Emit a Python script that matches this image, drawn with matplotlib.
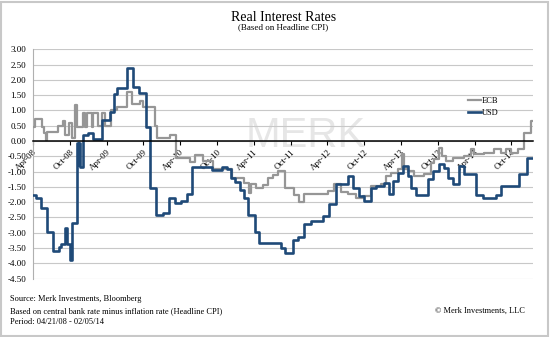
import pandas as pd
import matplotlib
matplotlib.use('Agg')
import matplotlib.pyplot as plt
from matplotlib.patches import Rectangle

plt.rcParams['font.family'] = ['Liberation Serif', 'DejaVu Serif']

# step data: date the level starts, real rate (%)
usd_dates = ['2008-04-21', '2008-05-08', '2008-06-02', '2008-06-30', '2008-07-27', '2008-08-29',
             '2008-09-09', '2008-09-26', '2008-10-08', '2008-10-24', '2008-11-03', '2008-11-23',
             '2008-12-01', '2008-12-05', '2008-12-10', '2008-12-26', '2009-01-20', '2009-02-14',
             '2009-03-28', '2009-05-08', '2009-05-28', '2009-06-12', '2009-07-31', '2009-08-31',
             '2009-09-29', '2009-11-03', '2009-11-23', '2009-12-23', '2010-01-27', '2010-02-26',
             '2010-03-28', '2010-04-27', '2010-05-26', '2010-06-20', '2010-09-28', '2010-11-17',
             '2010-12-12', '2011-01-01', '2011-01-20', '2011-02-14', '2011-03-06', '2011-03-26',
             '2011-04-30', '2011-05-20', '2011-09-02', '2011-09-26', '2011-10-31', '2011-11-25',
             '2011-12-25', '2012-01-29', '2012-03-29', '2012-04-28', '2012-06-01', '2012-07-31',
             '2012-08-25', '2012-09-24', '2012-10-19', '2012-11-23', '2012-12-17', '2013-01-26',
             '2013-02-20', '2013-03-12', '2013-04-06', '2013-05-01', '2013-05-26', '2013-06-10',
             '2013-07-05', '2013-09-02', '2013-09-27', '2013-10-27', '2013-11-21', '2013-12-11',
             '2014-01-05', '2014-02-04', '2014-03-01', '2014-04-29', '2014-06-03', '2014-08-07',
             '2014-09-01', '2014-11-30', '2015-01-04']
usd_values = [-1.75, -1.87, -2.20, -2.98, -3.59, -3.48,
              -3.37, -2.85, -3.37, -3.88, -2.68, -0.07,
              -0.80, -0.07, -0.84, 0.20, 0.25, 0.07,
              0.68, 0.95, 1.55, 1.72, 2.38, 1.77,
              1.57, 0.47, -1.52, -2.43, -2.36, -1.87,
              -2.03, -1.97, -1.73, -0.85, -0.95, -0.84,
              -0.90, -1.22, -1.33, -1.60, -1.87, -2.41,
              -2.96, -3.34, -3.50, -3.65, -3.25, -3.13,
              -2.72, -2.62, -2.45, -2.07, -1.41, -1.14,
              -1.52, -1.80, -1.96, -1.52, -1.47, -1.36,
              -1.74, -1.30, -1.03, -0.82, -1.14, -1.52,
              -1.76, -1.25, -0.98, -0.76, -0.87, -1.20,
              -1.39, -0.82, -1.07, -1.76, -1.87, -1.76,
              -1.47, -1.07, -0.54]

ecb_dates = ['2008-04-21', '2008-04-29', '2008-06-03', '2008-06-13', '2008-06-23', '2008-06-28',
             '2008-08-22', '2008-09-16', '2008-09-26', '2008-10-16', '2008-10-31', '2008-11-15',
             '2008-11-25', '2008-12-25', '2009-01-03', '2009-01-13', '2009-02-07', '2009-02-12',
             '2009-03-09', '2009-03-29', '2009-04-13', '2009-05-13', '2009-06-12', '2009-07-31',
             '2009-08-25', '2009-10-05', '2009-10-19', '2009-12-18', '2009-12-28', '2010-03-03',
             '2010-04-02', '2010-06-10', '2010-07-05', '2010-08-12', '2010-10-03',
             '2011-01-06', '2011-03-06', '2011-03-31', '2011-04-10', '2011-05-05', '2011-06-04',
             '2011-06-29', '2011-07-24', '2011-08-18', '2011-09-26', '2011-11-05', '2011-11-30',
             '2011-12-25', '2012-04-22', '2012-05-22', '2012-06-26', '2012-07-31', '2012-09-09',
             '2012-10-14', '2012-11-23', '2013-01-11', '2013-02-05', '2013-03-02', '2013-04-06',
             '2013-04-26', '2013-05-06', '2013-05-26', '2013-06-25', '2013-08-13', '2013-09-17',
             '2013-10-02', '2013-10-27', '2013-11-11', '2013-12-01', '2014-01-05', '2014-03-01',
             '2014-04-05', '2014-04-20', '2014-06-09', '2014-07-28', '2014-09-01', '2014-09-26',
             '2014-10-21', '2014-11-25', '2014-12-25', '2015-01-24']
ecb_values = [0.45, 0.72, 0.47, 0.25, 0.03, 0.28,
              0.48, 0.66, 0.20, 0.58, 0.10, 1.17,
              0.45, 0.90, 0.45, 0.90, 0.45, 0.90,
              0.50, 0.90, 0.50, 1.00, 1.10, 1.60,
              1.22, 1.30, 1.10, 0.50, 0.10, 0.20,
              -0.55, -0.68, -0.46, -0.65, -0.90,
              -1.20, -1.38, -1.70, -1.42, -1.52, -1.43,
              -1.22, -1.11, -0.97, -1.52, -1.76, -2.00,
              -1.74, -1.63, -1.41, -1.66, -1.72, -1.85,
              -1.80, -1.47, -1.41, -1.14, -1.03, -0.92,
              -0.43, -0.90, -0.98, -1.14, -1.09, -0.71,
              -0.60, -0.22, -0.49, -0.65, -0.54, -0.49,
              -0.27, -0.43, -0.38, -0.27, -0.38, -0.27,
              -0.38, -0.27, 0.27, 0.65]

start = pd.Timestamp('2008-04-21')
end = pd.Timestamp('2015-02-05')

usd = pd.Series(usd_values + [usd_values[-1]], index=pd.to_datetime(usd_dates + [str(end.date())]))
ecb = pd.Series(ecb_values + [ecb_values[-1]], index=pd.to_datetime(ecb_dates + [str(end.date())]))

fig = plt.figure(figsize=(5.5, 3.37), dpi=100)
ax = fig.add_axes([0.06, 0.173, 0.909, 0.681])

# watermark
ax.text(0.545, 0.62, 'MERK', transform=ax.transAxes, fontsize=30, color='#e6e6e6',
        family='Liberation Sans', ha='center', va='center', zorder=0)

ax.set_ylim(-4.5, 3.0)
ax.set_xlim(start, end)
yt = [-4.5 + 0.5 * i for i in range(16)]
ax.set_yticks(yt)
ax.set_yticklabels(['%.2f' % v for v in yt], fontsize=6.5)
for v in yt:
    ax.axhline(v, color='#c8c8c8', lw=0.8, zorder=1)

ax.step(ecb.index, ecb.values, where='post', color='#969696', lw=1.6, label='ECB', zorder=3)
ax.step(usd.index, usd.values, where='post', color='#1f4a78', lw=1.9, label='USD', zorder=4)

# x axis crosses at zero
for s in ['top', 'right']:
    ax.spines[s].set_visible(False)
ax.spines['left'].set_color('#b0b0b0')
ax.spines['bottom'].set_position(('data', 0))
ax.spines['bottom'].set_color('black')
ax.spines['bottom'].set_linewidth(1.1)
ax.spines['bottom'].set_zorder(5)

xt = [start + pd.DateOffset(months=6 * k) for k in range(14)]
ax.set_xticks(xt)
ax.set_xticklabels([d.strftime('%b-%y') for d in xt], fontsize=6.5, rotation=45,
                   ha='right', va='top', rotation_mode='anchor')
ax.tick_params(axis='x', length=3, width=0.8, pad=2)
ax.tick_params(axis='y', length=0, pad=5)

ax.legend(loc='upper left', bbox_to_anchor=(0.855, 0.825), frameon=False, fontsize=6,
          handlelength=1.6, handletextpad=0.1, labelspacing=0.5)

fig.text(0.515, 0.947, 'Real Interest Rates', ha='center', va='center', fontsize=10)
fig.text(0.515, 0.918, '(Based on Headline CPI)', ha='center', va='center', fontsize=6.5)

fig.text(0.018, 0.112, 'Source: Merk Investments, Bloomberg', fontsize=6, va='center')
fig.text(0.018, 0.078, 'Based on central bank rate minus inflation rate (Headline CPI)', fontsize=6, va='center')
fig.text(0.018, 0.044, 'Period: 04/21/08 - 02/05/14', fontsize=6, va='center')
fig.text(0.955, 0.078, '\u00a9 Merk Investments, LLC', fontsize=6, va='center', ha='right')

fig.patches.append(Rectangle((0.002, 0.003), 0.994, 0.992, transform=fig.transFigure,
                             fill=False, edgecolor='#c8c8c8', lw=1.5))

fig.savefig('out.png', dpi=100)
